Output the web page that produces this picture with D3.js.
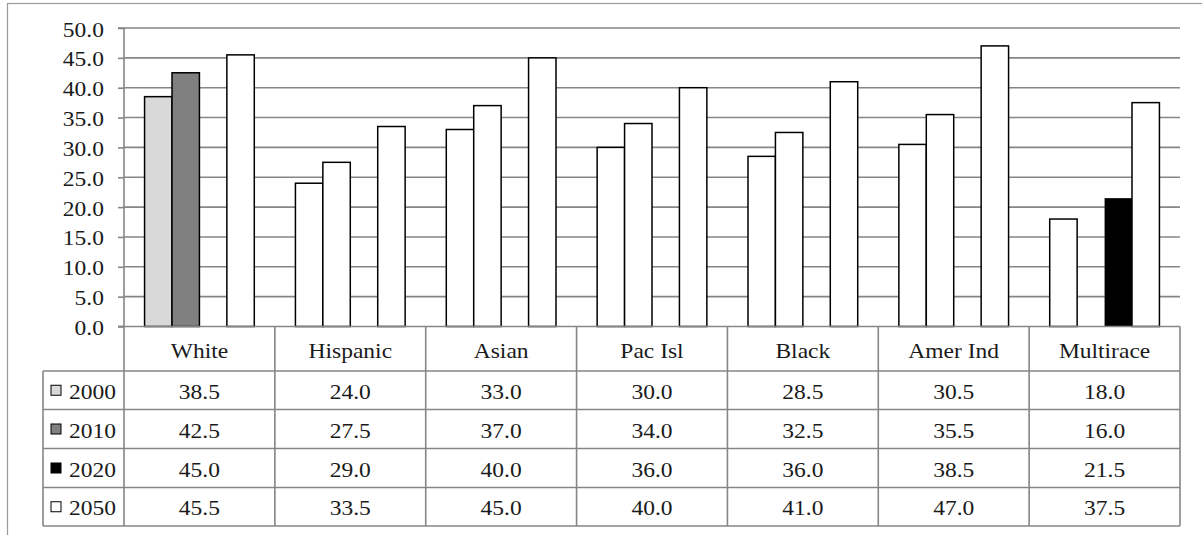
<!DOCTYPE html>
<html>
<head>
<meta charset="utf-8">
<script src="https://cdn.jsdelivr.net/npm/d3@7"></script>
<style>
  html, body { margin: 0; padding: 0; background: #fff; }
  svg { display: block; }
</style>
</head>
<body>
<svg id="chart" width="1202" height="535"></svg>
<script>
// ---- data ----
const categories = ["White", "Hispanic", "Asian", "Pac Isl", "Black", "Amer Ind", "Multirace"];
const seriesNames = ["2000", "2010", "2020", "2050"];
const values2000 = [38.5, 24.0, 33.0, 30.0, 28.5, 30.5, 18.0];
const values2010 = [42.5, 27.5, 37.0, 34.0, 32.5, 35.5, 16.0];
const values2020 = [45.0, 29.0, 40.0, 36.0, 36.0, 38.5, 21.5];
const values2050 = [45.5, 33.5, 45.0, 40.0, 41.0, 47.0, 37.5];
const yTicks = [0, 5, 10, 15, 20, 25, 30, 35, 40, 45, 50];

// ---- styling (kept apart from the data) ----
const legendFill = { "2000": "#d9d9d9", "2010": "#808080", "2020": "#000000", "2050": "#ffffff" };
// per-point fills as in the original; null = bar not drawn
const pointFill = {
  "2000": { def: "#ffffff", White: "#d9d9d9" },
  "2010": { def: "#ffffff", White: "#808080", Multirace: null },
  "2020": { def: null, Multirace: "#000000" },
  "2050": { def: "#ffffff" }
};

const seriesValues = { "2000": values2000, "2010": values2010, "2020": values2020, "2050": values2050 };

const svg = d3.select("#chart");
const W = 1202, H = 535;
const plot = { left: 124, right: 1180, top: 28, bottom: 326.5 };
const rows = [326.5, 371, 409.5, 448.5, 487.5, 526];
const legendLeft = 43;
const gridColor = "#868686";
const FS = 21, SX = 1.12;

// outer chart border
svg.append("rect")
  .attr("x", 7.5).attr("y", 3.5).attr("width", W + 20).attr("height", H + 20)
  .attr("fill", "none").attr("stroke", "#9a9a9a").attr("stroke-width", 1.2);

const x0 = d3.scaleBand().domain(categories).range([plot.left, plot.right]).padding(0);
const x1 = d3.scaleBand().domain(seriesNames).range([0, x0.bandwidth()]).paddingInner(0).paddingOuter(0.75);
const y = d3.scaleLinear().domain([0, 50]).range([plot.bottom, plot.top]);

function label(g, txt, x, yy, anchor) {
  return g.append("text")
    .attr("transform", `translate(${x},${yy}) scale(${SX},1)`)
    .attr("text-anchor", anchor)
    .style("font-family", '"Liberation Serif"')
    .style("font-size", FS + "px")
    .attr("fill", "#1a1a1a")
    .text(txt);
}

// gridlines
svg.append("g").selectAll("line").data(yTicks.filter(t => t > 0)).join("line")
  .attr("x1", plot.left).attr("x2", plot.right)
  .attr("y1", d => y(d)).attr("y2", d => y(d))
  .attr("stroke", gridColor).attr("stroke-width", 1.6);

// y axis
const yAxis = svg.append("g")
  .attr("transform", `translate(${plot.left},0)`)
  .call(d3.axisLeft(y).tickValues(yTicks).tickSize(6).tickFormat(""));
yAxis.selectAll("path,line").attr("stroke", gridColor).attr("stroke-width", 1.6);
yAxis.select(".domain").attr("d", `M-6,${plot.top}H0V${plot.bottom}H-6`);

const tickLabels = svg.append("g");
yTicks.forEach(t => label(tickLabels, d3.format(".1f")(t), 104, y(t) + 8.5, "end"));

// bars
const barG = svg.append("g");
seriesNames.forEach(s => {
  const vals = seriesValues[s];
  categories.forEach((c, i) => {
    const st = pointFill[s];
    const fill = (c in st) ? st[c] : st.def;
    if (fill === null) return;
    barG.append("rect")
      .attr("x", x0(c) + x1(s))
      .attr("y", y(vals[i]))
      .attr("width", x1.bandwidth())
      .attr("height", y(0) - y(vals[i]))
      .attr("fill", fill)
      .attr("stroke", "#000")
      .attr("stroke-width", fill === "#000000" ? 0 : 1.5);
  });
});

// data table
const tbl = svg.append("g");
rows.forEach((ry, k) => {
  tbl.append("line")
    .attr("x1", k === 0 ? plot.left - 6 : legendLeft).attr("x2", plot.right)
    .attr("y1", ry).attr("y2", ry)
    .attr("stroke", gridColor).attr("stroke-width", 1.6);
});
const vx = categories.map(c => x0(c)).concat([plot.right]);
vx.forEach(vxx => {
  tbl.append("line")
    .attr("x1", vxx).attr("x2", vxx)
    .attr("y1", rows[0]).attr("y2", rows[rows.length - 1])
    .attr("stroke", gridColor).attr("stroke-width", 1.6);
});
tbl.append("line")
  .attr("x1", legendLeft).attr("x2", legendLeft)
  .attr("y1", rows[1]).attr("y2", rows[rows.length - 1])
  .attr("stroke", gridColor).attr("stroke-width", 1.6);

categories.forEach(c => {
  label(tbl, c, x0(c) + x0.bandwidth() / 2, (rows[0] + rows[1]) / 2 + 9.5, "middle");
});

seriesNames.forEach((s, k) => {
  const cy = (rows[k + 1] + rows[k + 2]) / 2;
  tbl.append("rect")
    .attr("x", 51).attr("y", cy - 5).attr("width", 10).attr("height", 10)
    .attr("fill", legendFill[s]).attr("stroke", "#000").attr("stroke-width", 1);
  label(tbl, s, 69, cy + 8.5, "start");
  seriesValues[s].forEach((v, i) => {
    label(tbl, d3.format(".1f")(v), x0(categories[i]) + x0.bandwidth() / 2, cy + 8.5, "middle");
  });
});
</script>
</body>
</html>
